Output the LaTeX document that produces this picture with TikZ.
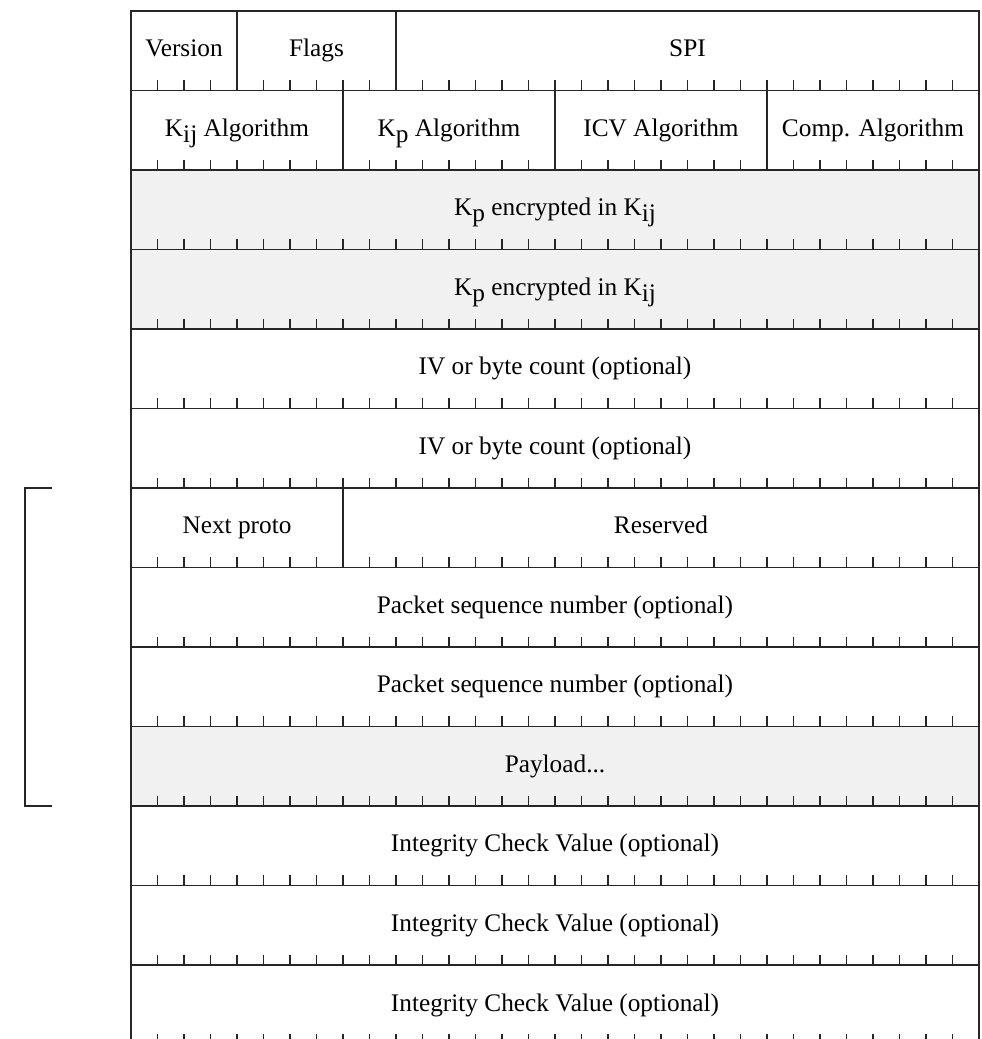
\documentclass[tikz,border=0pt]{standalone}
\usepackage{fontspec}
\setmainfont{Liberation Serif}
\usepackage{tikz}
\definecolor{pkink}{HTML}{262626}
\definecolor{pkfill}{HTML}{F1F1F1}
\newcommand{\lowsub}[1]{\raisebox{-0.22em}{#1}}

\begin{document}
\begin{tikzpicture}[
  x=1cm, y=1cm,
  field/.style      = {rectangle, draw=pkink, line width=0.7pt, anchor=north west,
                       minimum height=1.59cm, inner sep=0pt, outer sep=0pt,
                       text height=0.35cm, text depth=0.1cm,
                       font=\fontsize{14.4pt}{16pt}\selectfont},
  shadedfield/.style= {field, fill=pkfill},
  bittick/.style    = {draw=pkink, line width=0.7pt},
  grouprule/.style  = {draw=pkink, line width=0.7pt},
]
\clip (0,0) rectangle (19.62,20.78);
% row 1
\node[field, minimum width=2.12cm]  (ver)   at (2.62,20.56) {Version};
\node[field, minimum width=3.18cm]  (flags) at (4.74,20.56) {Flags};
\node[field, minimum width=11.66cm] (spi)   at (7.92,20.56) {SPI};
% row 2
\node[field, minimum width=4.24cm] (kijalg)  at (2.62,18.97)  {K\lowsub{ij} Algorithm};
\node[field, minimum width=4.24cm] (kpalg)   at (6.86,18.97)  {K\lowsub{p} Algorithm};
\node[field, minimum width=4.24cm] (icvalg)  at (11.10,18.97) {ICV Algorithm};
\node[field, minimum width=4.24cm] (compalg) at (15.34,18.97) {Comp. Algorithm};
% rows 3--6
\node[shadedfield, minimum width=16.96cm] (kpenc1) at (2.62,17.38) {K\lowsub{p} encrypted in K\lowsub{ij}};
\node[shadedfield, minimum width=16.96cm] (kpenc2) at (2.62,15.79) {K\lowsub{p} encrypted in K\lowsub{ij}};
\node[field, minimum width=16.96cm] (iv1) at (2.62,14.20) {IV or byte count (optional)};
\node[field, minimum width=16.96cm] (iv2) at (2.62,12.61) {IV or byte count (optional)};
% rows 7--10
\node[field, minimum width=4.24cm]  (nextproto) at (2.62,11.02) {Next proto};
\node[field, minimum width=12.72cm] (reserved)  at (6.86,11.02) {Reserved};
\node[field, minimum width=16.96cm] (seq1) at (2.62,9.43) {Packet sequence number (optional)};
\node[field, minimum width=16.96cm] (seq2) at (2.62,7.84) {Packet sequence number (optional)};
\node[shadedfield, minimum width=16.96cm] (payload) at (2.62,6.25) {Payload...};
% rows 11--13
\node[field, minimum width=16.96cm] (icv1) at (2.62,4.66) {Integrity Check Value (optional)};
\node[field, minimum width=16.96cm] (icv2) at (2.62,3.07) {Integrity Check Value (optional)};
\node[field, minimum width=16.96cm] (icv3) at (2.62,1.48) {Integrity Check Value (optional)};
% bit ticks
\foreach \r in {1,...,13}
  \foreach \b in {1,...,31}
    \draw[bittick] (2.62+\b*0.53,20.56-\r*1.59) -- ++(0,0.2);
% bracket
\coordinate (gtop)    at (0.50,11.02);
\coordinate (gtopend) at (1.04,11.02);
\coordinate (gbot)    at (0.50,4.66);
\coordinate (gbotend) at (1.04,4.66);
\draw[grouprule] (gtopend) -- (gtop) -- (gbot) -- (gbotend);
\end{tikzpicture}
\end{document}
